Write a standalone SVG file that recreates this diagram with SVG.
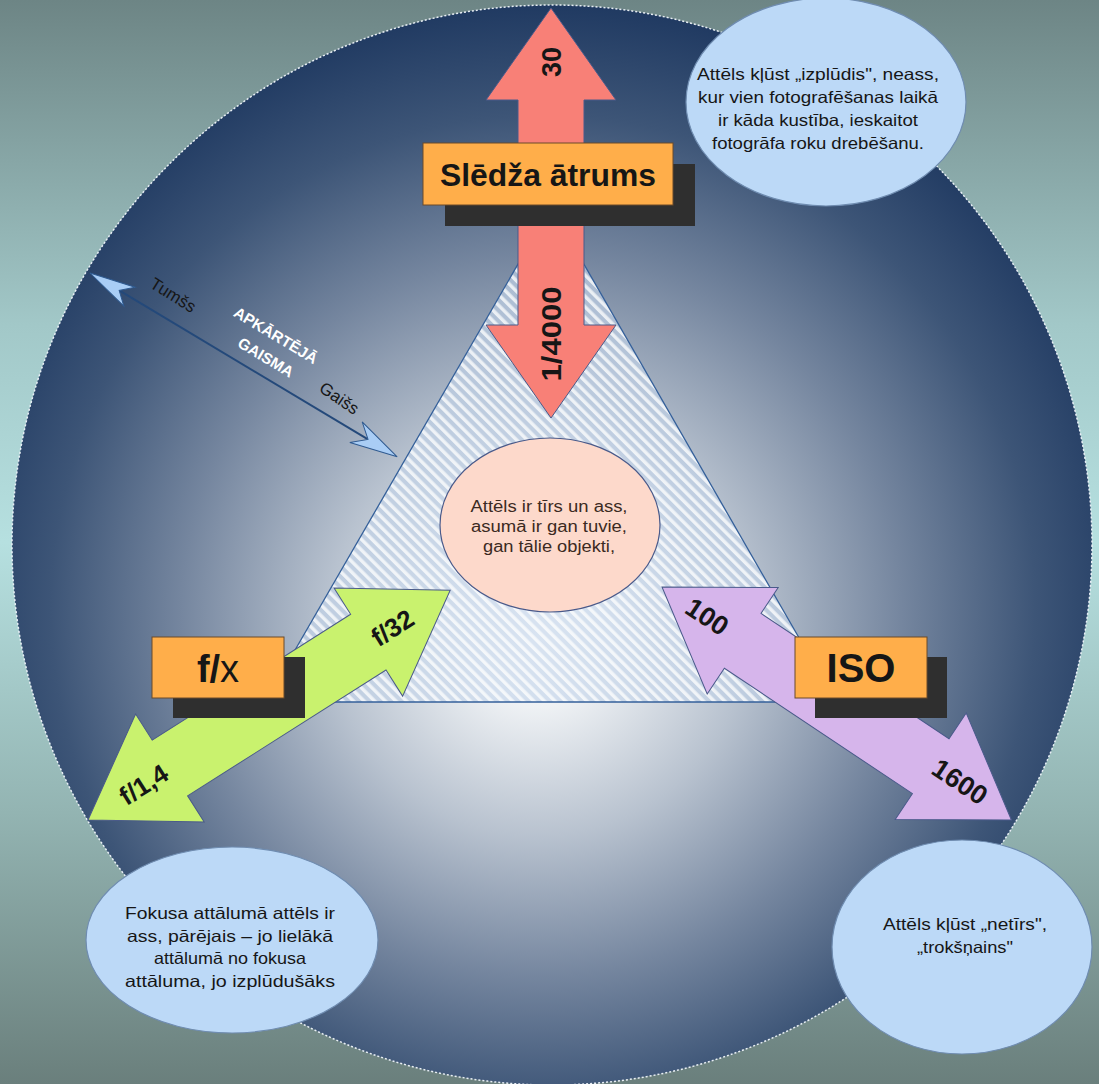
<svg xmlns="http://www.w3.org/2000/svg" width="1099" height="1084" viewBox="0 0 1099 1084">
<defs>
<linearGradient id="bg" x1="0" y1="0" x2="0" y2="1">
<stop offset="0" stop-color="#6d8585"/>
<stop offset="0.3" stop-color="#a2c8c8"/>
<stop offset="0.5" stop-color="#b6e0e0"/>
<stop offset="0.75" stop-color="#93b4b2"/>
<stop offset="1" stop-color="#6a7f7c"/>
</linearGradient>
<radialGradient id="disc" gradientUnits="userSpaceOnUse" cx="545" cy="600" r="600" fx="535" fy="640">
<stop offset="0" stop-color="#ffffff"/>
<stop offset="0.12" stop-color="#eef1f4"/>
<stop offset="0.35" stop-color="#b8c2cf"/>
<stop offset="0.6" stop-color="#75869f"/>
<stop offset="0.82" stop-color="#3d5577"/>
<stop offset="1" stop-color="#1f3961"/>
</radialGradient>
<pattern id="hatch" patternUnits="userSpaceOnUse" width="7.5" height="7.5" patternTransform="rotate(-45)">
<rect width="7.5" height="7.5" fill="#c3d5ea" fill-opacity="0.65"/>
<rect width="3.4" height="7.5" fill="#ffffff" fill-opacity="0.75"/>
</pattern>
<style>
.t{font-family:"Liberation Sans",Arial,sans-serif;fill:#161616}
.b{font-weight:bold}
.note{font-size:16.5px;text-anchor:middle}
.box{fill:#ffae4a;stroke:#6b4a2a;stroke-width:1}
.shadow{fill:#2f2f2f}
.arr{stroke:#4a5a8a;stroke-width:1}
.bubble{fill:#bcd9f7;stroke:#6f8cb0;stroke-width:1.2}
.w{fill:#ffffff;font-weight:bold;font-size:15.5px;text-anchor:middle}
</style>
</defs>

<rect width="1099" height="1084" fill="url(#bg)"/>

<g id="disc-node">
<circle cx="552" cy="545" r="540" fill="url(#disc)"/>
<circle cx="552" cy="545" r="540" fill="none" stroke="#e8eef5" stroke-width="1.5" stroke-dasharray="2 2"/>
</g>

<g id="triangle">
<polygon points="551,207 836,702 265,702" fill="url(#hatch)" stroke="#35609a" stroke-width="1.3"/>
</g>

<g id="connectors">
<g id="light-axis" transform="translate(90,273) rotate(30.9)">
<line x1="34" y1="0" x2="324" y2="0" stroke="#24497a" stroke-width="2"/>
<polygon points="0,0 46,-11 34,0 46,11" fill="#a9cdf5" stroke="#2f5a90" stroke-width="1"/>
<polygon points="358,0 310,-12 324,0 310,12" fill="#a9cdf5" stroke="#2f5a90" stroke-width="1"/>
</g>
</g>

<g id="light-labels">
<text class="t" font-size="17" text-anchor="middle" transform="translate(170,300) rotate(32)">Tumšs</text>
<text class="t" font-size="17" text-anchor="middle" transform="translate(336,403) rotate(34)">Gaišs</text>
<text class="t w" transform="translate(273,340) rotate(31)">APKĀRTĒJĀ</text>
<text class="t w" transform="translate(263,362) rotate(31)">GAISMA</text>
</g>

<g id="center-node">
<ellipse cx="550" cy="525" rx="110" ry="87" fill="#fdd9cb" stroke="#4a5a8a" stroke-width="1.2"/>
<text class="t" font-size="16" text-anchor="middle" style="fill:#3b2a22"><tspan x="549" y="512" textLength="157" lengthAdjust="spacingAndGlyphs">Attēls ir tīrs un ass,</tspan><tspan x="549" y="532" textLength="156" lengthAdjust="spacingAndGlyphs">asumā ir gan tuvie,</tspan><tspan x="549" y="552" textLength="132" lengthAdjust="spacingAndGlyphs">gan tālie objekti,</tspan></text>
</g>

<g id="shutter-node">
<polygon class="arr" fill="#f88077" points="551,8 616,100 584,100 584,325 616,325 551,418 486,325 518,325 518,100 486,100"/>
<text class="t b" font-size="27" text-anchor="middle" transform="translate(561,62) rotate(-90)">30</text>
<text class="t b" font-size="28" text-anchor="middle" textLength="95" lengthAdjust="spacingAndGlyphs" transform="translate(561,334) rotate(-90)">1/4000</text>
<rect class="shadow" x="445" y="164" width="250" height="62"/>
<rect class="box" x="423" y="143" width="250" height="62"/>
<text class="t b" font-size="31" x="548" y="186" text-anchor="middle" textLength="216" lengthAdjust="spacingAndGlyphs">Slēdža ātrums</text>
</g>

<g id="aperture-node">
<g transform="translate(88,820) rotate(-32.4)">
<polygon class="arr" fill="#c9f26e" points="0,0 97,-64 97,-33 332,-33 332,-64 429,0 332,64 332,33 97,33 97,64"/>
<text class="t b" font-size="26" x="360" y="10" text-anchor="middle">f/32</text>
<text class="t b" font-size="26" x="66" y="9" text-anchor="middle">f/1,4</text>
</g>
<rect class="shadow" x="173" y="657" width="132" height="61"/>
<rect class="box" x="152" y="637" width="132" height="61"/>
<text class="t" font-size="38" x="218" y="682" text-anchor="middle"><tspan font-weight="bold">f/</tspan>x</text>
</g>

<g id="iso-node">
<g transform="translate(662,587) rotate(33.7)">
<polygon class="arr" fill="#d6b5eb" points="0,0 97,-64 97,-33 323,-33 323,-64 420,0 323,64 323,33 97,33 97,64"/>
<text class="t b" font-size="27" x="54" y="9" text-anchor="middle">100</text>
<text class="t b" font-size="27" x="356" y="6" text-anchor="middle">1600</text>
</g>
<rect class="shadow" x="815" y="657" width="132" height="61"/>
<rect class="box" x="795" y="637" width="132" height="61"/>
<text class="t b" font-size="40" x="861" y="682" text-anchor="middle">ISO</text>
</g>

<g id="motion-note">
<ellipse class="bubble" cx="826" cy="102" rx="140" ry="104"/>
<text class="t note"><tspan x="818" y="80" textLength="242" lengthAdjust="spacingAndGlyphs">Attēls kļūst „izplūdis", neass,</tspan><tspan x="818" y="103" textLength="240" lengthAdjust="spacingAndGlyphs">kur vien fotografēšanas laikā</tspan><tspan x="818" y="126" textLength="200" lengthAdjust="spacingAndGlyphs">ir kāda kustība, ieskaitot</tspan><tspan x="818" y="149" textLength="212" lengthAdjust="spacingAndGlyphs">fotogrāfa roku drebēšanu.</tspan></text>
</g>

<g id="focus-note">
<ellipse class="bubble" cx="232" cy="940" rx="146" ry="93"/>
<text class="t note"><tspan x="230" y="919" textLength="210" lengthAdjust="spacingAndGlyphs">Fokusa attālumā attēls ir</tspan><tspan x="230" y="942" textLength="206" lengthAdjust="spacingAndGlyphs">ass, pārējais – jo lielākā</tspan><tspan x="230" y="964" textLength="152" lengthAdjust="spacingAndGlyphs">attālumā no fokusa</tspan><tspan x="230" y="987" textLength="210" lengthAdjust="spacingAndGlyphs">attāluma, jo izplūdušāks</tspan></text>
</g>

<g id="noise-note">
<ellipse class="bubble" cx="962" cy="947" rx="130" ry="107"/>
<text class="t note"><tspan x="965" y="930" textLength="164" lengthAdjust="spacingAndGlyphs">Attēls kļūst „netīrs",</tspan><tspan x="965" y="953" textLength="96" lengthAdjust="spacingAndGlyphs">„trokšņains"</tspan></text>
</g>
</svg>
